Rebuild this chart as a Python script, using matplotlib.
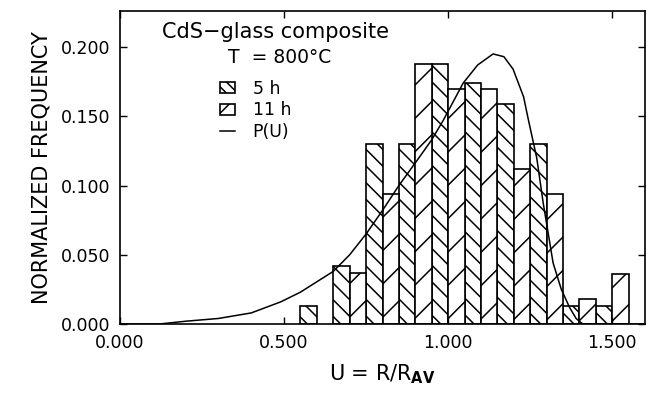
import matplotlib
matplotlib.use("Agg")
import matplotlib.pyplot as plt
from matplotlib.lines import Line2D
from matplotlib.patches import Patch

# histogram data (left edge of each bar, bar width 0.05)
left_5h = [0.55, 0.65, 0.75, 0.85, 0.95, 1.05, 1.15, 1.25, 1.35, 1.45]
freq_5h = [0.013, 0.042, 0.130, 0.130, 0.188, 0.174, 0.159, 0.130, 0.013, 0.013]
left_11h = [0.70, 0.80, 0.90, 1.00, 1.10, 1.20, 1.30, 1.40, 1.50]
freq_11h = [0.037, 0.094, 0.188, 0.170, 0.170, 0.112, 0.094, 0.018, 0.036]
bar_w = 0.05

# P(U) curve
u_curve = [0.0, 0.12, 0.2, 0.3, 0.4, 0.49, 0.55, 0.61, 0.65, 0.7, 0.75, 0.8, 0.85,
           0.905, 0.95, 0.985, 1.046, 1.09, 1.137, 1.17, 1.198, 1.23, 1.245,
           1.27, 1.29, 1.32, 1.345, 1.37, 1.39, 1.41, 1.6]
p_curve = [0.0, 0.0, 0.002, 0.004, 0.008, 0.016, 0.023, 0.032, 0.038, 0.050, 0.065,
           0.082, 0.100, 0.118, 0.133, 0.147, 0.174, 0.187, 0.195, 0.193, 0.184,
           0.164, 0.147, 0.120, 0.087, 0.044, 0.025, 0.012, 0.004, 0.0, 0.0]

xticks = [0.0, 0.5, 1.0, 1.5]
yticks = [0.0, 0.05, 0.10, 0.15, 0.20]

plt.rcParams['font.family'] = ['DejaVu Sans']
plt.rcParams['hatch.linewidth'] = 1.1

fig = plt.figure(figsize=(6.47, 3.95), dpi=100)
ax = fig.add_axes([120 / 647, 1 - 324 / 395, 525 / 647, 313 / 395])

ax.bar(left_5h, freq_5h, width=bar_w, align='edge', facecolor='white',
       edgecolor='black', linewidth=1.2, hatch='\\\\')
ax.bar(left_11h, freq_11h, width=bar_w, align='edge', facecolor='white',
       edgecolor='black', linewidth=1.2, hatch='/')
ax.plot(u_curve, p_curve, color='black', linewidth=1.1)

ax.set_xlim(0, 1.6)
ax.set_ylim(0, 0.226)
ax.set_xticks(xticks)
ax.set_xticklabels([f"{v:.3f}" for v in xticks])
ax.set_yticks(yticks)
ax.set_yticklabels([f"{v:.3f}" for v in yticks])
ax.tick_params(direction='in', length=5, width=1, labelsize=12.5,
               top=True, right=True, pad=7)
for s in ax.spines.values():
    s.set_linewidth(1.2)

ax.set_ylabel("NORMALIZED FREQUENCY", fontsize=15, labelpad=7)
ax.set_xlabel(r"U = R/R$_{\mathbf{AV}}$", fontsize=15, labelpad=8)

ax.text(0.08, 0.933, "CdS\u2212glass composite", transform=ax.transAxes,
        fontsize=15, va='center', ha='left')
ax.text(0.206, 0.853, "T  = 800\u00b0C", transform=ax.transAxes,
        fontsize=13.5, va='center', ha='left')

handles = [Patch(facecolor='white', edgecolor='black', hatch='\\\\\\', linewidth=1.2),
           Patch(facecolor='white', edgecolor='black', hatch='//', linewidth=1.2),
           Line2D([], [], color='black', linewidth=1.1)]
ax.legend(handles, ["5 h", "11 h", "P(U)"], loc='upper left',
          bbox_to_anchor=(0.19, 0.78), frameon=False, fontsize=12.5,
          borderpad=0, borderaxespad=0, handlelength=0.9, handleheight=0.6,
          handletextpad=1.0, labelspacing=0.2)

fig.savefig("out.png", dpi=100)
